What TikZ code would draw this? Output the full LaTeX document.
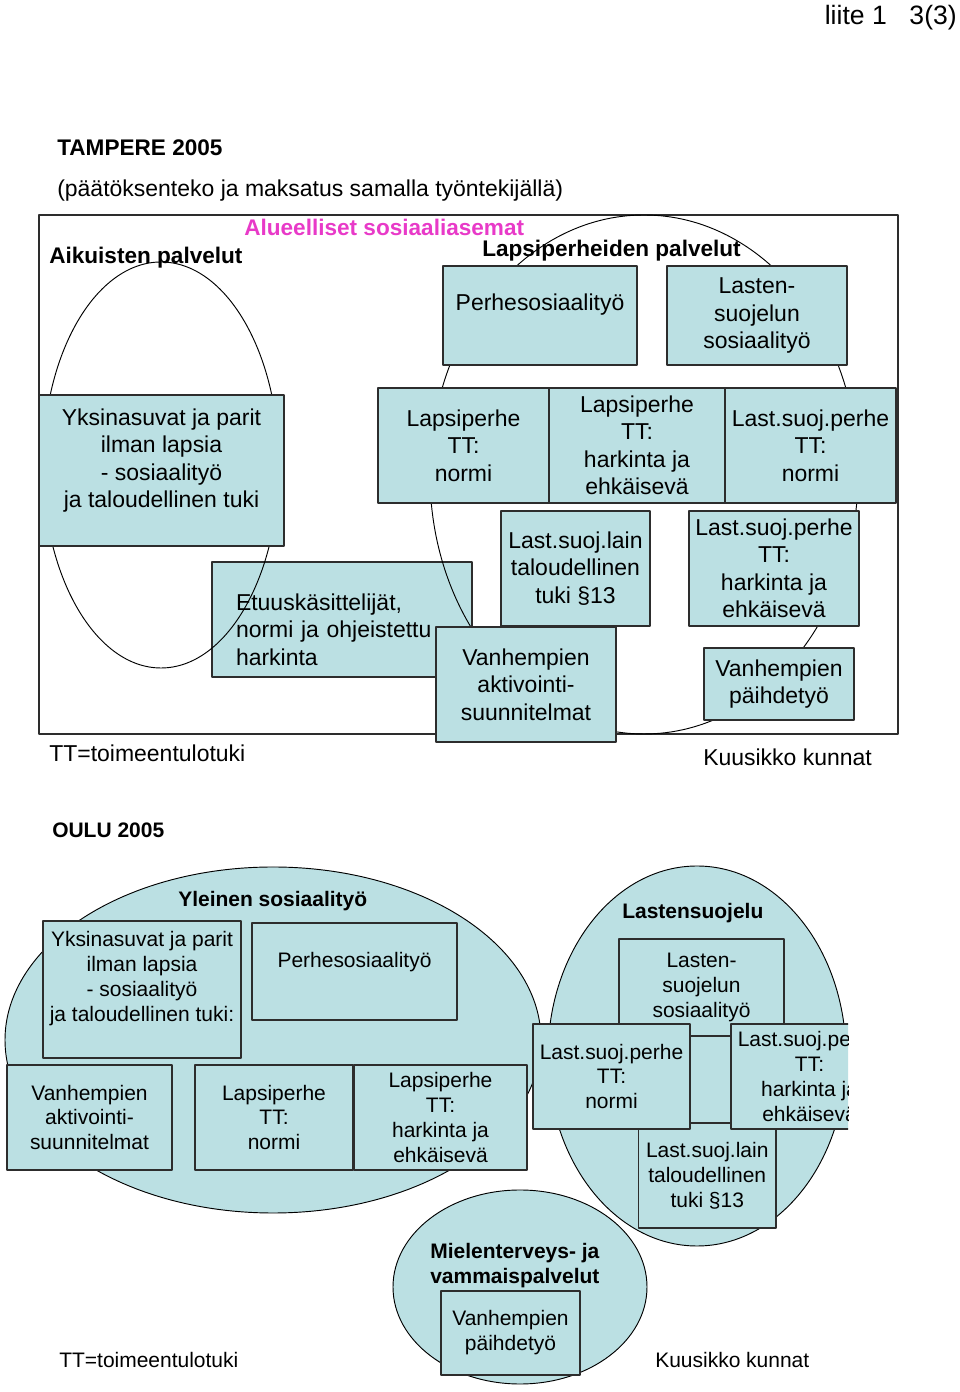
\documentclass[tikz,border=0pt]{standalone}
\usepackage{fontspec}
\setmainfont{Liberation Sans}
\definecolor{boxfill}{RGB}{187,224,227}
\definecolor{boxedge}{RGB}{45,45,45}
\definecolor{areaname}{RGB}{232,58,200}
\newcommand{\tfont}{\fontsize{17.3}{20.7}\selectfont}
\newcommand{\ofont}{\fontsize{15.8}{18.8}\selectfont}
\begin{document}
\begin{tikzpicture}[line join=bevel,
  tbox/.style={draw=boxedge,fill=boxfill,line width=0.8bp,align=center,inner sep=0pt,font=\tfont},
  obox/.style={tbox,font=\ofont},
  ring/.style={draw=black,line width=0.7bp},
  txt/.style={inner sep=0pt,anchor=west}]
\useasboundingbox (0bp,0bp) rectangle (720bp,1044bp);
%%
\node (node_21) at (717.75bp,1031bp) [txt,anchor=east,font=\fontsize{20}{24}\selectfont] {liite 1\hspace{17bp}3(3)};
  \node (node_22) at (42.75bp,933bp) [txt,font=\bfseries\fontsize{17}{20}\selectfont] {TAMPERE 2005};
  \node (node_23) at (42.75bp,901bp) [txt,font=\tfont] {(päätöksenteko ja maksatus samalla työntekijällä)};
%
  \draw [draw=boxedge,line width=1bp] (29.25bp,493.5bp) rectangle (673.5bp,882.75bp);
  \node (node_6) at (256.5bp,579.375bp) [tbox,minimum width=195bp,minimum height=86.25bp,text width=159bp,align=left] {\strut\\[-7.5bp]Etuuskäsittelijät,\\normi ja ohjeistettu\\harkinta};
  \draw [ring] (120.75bp,695.25bp) ellipse [x radius=88.5bp,y radius=152.25bp];
  \draw [ring] (483bp,688.125bp) ellipse [x radius=160.5bp,y radius=194.625bp];
  \node (node_0) at (405bp,807.375bp) [tbox,minimum width=145.5bp,minimum height=74.25bp] {Perhesosiaalityö\\[-7bp]\strut};
  \node (node_1) at (567.75bp,807.375bp) [tbox,minimum width=135bp,minimum height=74.25bp] {Lasten-\\suojelun\\sosiaalityö};
  \node (node_2) at (121.125bp,691.125bp) [tbox,minimum width=183.75bp,minimum height=113.25bp] {Yksinasuvat ja parit\\ilman lapsia\\- sosiaalityö\\ja taloudellinen tuki\\[-8bp]\strut};
  \node (node_3) at (347.625bp,709.875bp) [tbox,minimum width=128.25bp,minimum height=86.25bp] {Lapsiperhe\\TT:\\normi};
  \node (node_4) at (477.75bp,709.875bp) [tbox,minimum width=132bp,minimum height=86.25bp] {Lapsiperhe\\TT:\\harkinta ja\\ehkäisevä};
  \node (node_5) at (607.875bp,709.875bp) [tbox,minimum width=128.25bp,minimum height=86.25bp] {Last.suoj.perhe\\TT:\\normi};
  \node (node_7) at (431.625bp,617.625bp) [tbox,minimum width=111.75bp,minimum height=86.25bp] {Last.suoj.lain\\taloudellinen\\tuki §13};
  \node (node_8) at (580.5bp,617.625bp) [tbox,minimum width=127.5bp,minimum height=86.25bp] {Last.suoj.perhe\\TT:\\harkinta ja\\ehkäisevä};
  \node (node_9) at (394.5bp,530.625bp) [tbox,minimum width=135bp,minimum height=86.25bp] {Vanhempien\\aktivointi-\\suunnitelmat};
  \node (node_10) at (584.25bp,531bp) [tbox,minimum width=112.5bp,minimum height=54bp] {Vanhempien\\päihdetyö};
  \node (node_24) at (183bp,873.75bp) [txt,text=areaname,font=\bfseries\fontsize{17}{20}\selectfont] {Alueelliset sosiaaliasemat};
  \node (node_25) at (36.75bp,850.75bp) [txt,font=\bfseries\fontsize{17}{20}\selectfont] {Aikuisten palvelut};
  \node (node_26) at (361.5bp,856bp) [txt,font=\bfseries\fontsize{17}{20}\selectfont] {Lapsiperheiden palvelut};
  \node (node_27) at (36.75bp,479.25bp) [txt,font=\tfont] {TT=toimeentulotuki};
  \node (node_28) at (527.25bp,476.25bp) [txt,font=\tfont] {Kuusikko kunnat};
%%
\node (node_30) at (39bp,421.5bp) [txt,font=\bfseries\ofont] {OULU 2005};
\begin{scope}
  \clip (0bp,0bp) rectangle (636bp,450bp);
  \draw [ring,fill=boxfill] (204.75bp,264bp) ellipse [x radius=201bp,y radius=129.75bp];
  \draw [ring,fill=boxfill] (522.75bp,252bp) ellipse [x radius=111.75bp,y radius=142.5bp];
  \draw [ring,fill=boxfill] (390bp,78.75bp) ellipse [x radius=95.25bp,y radius=72.75bp];
  \node (node_11) at (106.5bp,301.875bp) [obox,minimum width=148.5bp,minimum height=102.75bp] {Yksinasuvat ja parit\\ilman lapsia\\- sosiaalityö\\ja taloudellinen tuki:\\[-5bp]\strut};
  \node (node_12) at (265.875bp,315.375bp) [obox,minimum width=153.75bp,minimum height=72.75bp] {Perhesosiaalityö\\[-7bp]\strut};
  \node (node_13) at (67.125bp,205.875bp) [obox,minimum width=123.75bp,minimum height=78.75bp] {Vanhempien\\aktivointi-\\suunnitelmat};
  \node (node_14) at (205.5bp,205.875bp) [obox,minimum width=118.5bp,minimum height=78.75bp] {Lapsiperhe\\TT:\\normi};
  \node (node_15) at (330.375bp,205.875bp) [obox,minimum width=129.75bp,minimum height=78.75bp] {Lapsiperhe\\TT:\\harkinta ja\\ehkäisevä};
  \node (node_16) at (526.125bp,303.375bp) [obox,minimum width=123.75bp,minimum height=72.75bp] {Lasten-\\suojelun\\sosiaalityö};
  \node (node_17) at (530.4375bp,162.375bp) [obox,minimum width=103.125bp,minimum height=78.75bp] {Last.suoj.lain\\taloudellinen\\tuki §13};
  \node (node_18) at (458.625bp,236.625bp) [obox,minimum width=117.75bp,minimum height=78.75bp] {Last.suoj.perhe\\TT:\\normi};
  \node (node_19) at (607.125bp,236.625bp) [obox,minimum width=117.75bp,minimum height=78.75bp] {Last.suoj.perhe\\TT:\\harkinta ja\\ehkäisevä};
  \node (node_20) at (382.875bp,44.25bp) [obox,minimum width=104.25bp,minimum height=63bp] {Vanhempien\\päihdetyö};
\end{scope}
  \node (node_31) at (133.5bp,368.5bp) [txt,font=\bfseries\ofont] {Yleinen sosiaalityö};
  \node (node_32) at (466.5bp,359.5bp) [txt,font=\bfseries\ofont] {Lastensuojelu};
  \node (node_33) at (322.5bp,95.125bp) [txt,align=left,font=\bfseries\ofont] {Mielenterveys- ja\\vammaispalvelut};
  \node (node_34) at (44.25bp,24bp) [txt,font=\ofont] {TT=toimeentulotuki};
  \node (node_35) at (491.25bp,24bp) [txt,font=\ofont] {Kuusikko kunnat};
%
\end{tikzpicture}
\end{document}
